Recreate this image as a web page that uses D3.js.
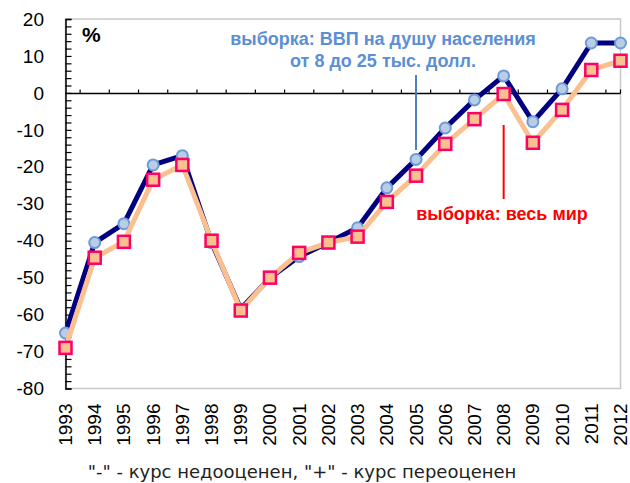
<!DOCTYPE html>
<html>
<head>
<meta charset="utf-8">
<script src="https://cdn.jsdelivr.net/npm/d3@7"></script>
<style>
  body { margin: 0; background: #fff; }
  svg { display: block; font-family: "Liberation Sans", Arial, sans-serif; }
</style>
</head>
<body>
<svg width="630" height="483"></svg>
<script>
// data
var years = ["1993","1994","1995","1996","1997","1998","1999","2000","2001","2002",
             "2003","2004","2005","2006","2007","2008","2009","2010","2011","2012"];
// sample: GDP per capita 8-25 thousand dollars
var midIncome = [-65, -40.5, -35.4, -19.5, -17, -40.5, -58.5, -50, -44.3, -40.5,
                 -36.5, -25.7, -18, -9.5, -1.9, 4.6, -7.8, 1.1, 13.5, 13.5];
// sample: whole world
var world = [-69, -44.6, -40.3, -23.5, -19.5, -40, -58.9, -50, -43.3, -40.5,
             -38.9, -29.5, -22.4, -13.8, -7.1, -0.3, -13.5, -4.6, 6.2, 8.7];
var yTicks = [20, 10, 0, -10, -20, -30, -40, -50, -60, -70, -80];

var svg = d3.select("svg");

var plotLeft = 65.5, plotRight = 620.5, plotTop = 19, plotBottom = 388.5;

var x = d3.scalePoint().domain(years).range([plotLeft, plotRight]);
var y = d3.scaleLinear().domain([-80, 20]).range([plotBottom, plotTop]);
var step = x.step();

// plot frame
svg.append("rect")
    .attr("x", plotLeft).attr("y", plotTop)
    .attr("width", plotRight - plotLeft).attr("height", plotBottom - plotTop)
    .attr("fill", "none").attr("stroke", "#c8c8c8").attr("stroke-width", 1.5);

// y axis with minor ticks every 2
var yAxis = svg.append("g").attr("transform", "translate(" + plotLeft + ",0)");
yAxis.call(d3.axisLeft(y).tickValues(d3.range(-80, 21, 2)).tickSize(-6).tickFormat(""));
yAxis.select(".domain").attr("stroke", "#000").attr("stroke-width", 1.5);
yAxis.selectAll(".tick line").attr("stroke", "#000").attr("stroke-width", 1.2);

svg.append("g").selectAll("text")
    .data(yTicks)
    .enter().append("text")
    .attr("x", 44)
    .attr("y", function(d) { return y(d); })
    .attr("dy", "0.35em")
    .attr("text-anchor", "end")
    .attr("font-size", 19)
    .attr("fill", "#000")
    .text(function(d) { return d; });

// x axis at zero, ticks between categories
var zeroY = Math.round(y(0)) + 0.5;
svg.append("line")
    .attr("x1", plotLeft).attr("x2", plotRight)
    .attr("y1", zeroY).attr("y2", zeroY)
    .attr("stroke", "#000").attr("stroke-width", 1.5);

var midTicks = years.slice(0, -1).map(function(d) { return x(d) + step / 2; });
midTicks.push(plotRight);
svg.append("g").selectAll("line")
    .data(midTicks)
    .enter().append("line")
    .attr("x1", function(d) { return d; }).attr("x2", function(d) { return d; })
    .attr("y1", zeroY).attr("y2", zeroY - 4)
    .attr("stroke", "#000").attr("stroke-width", 1.2);

// rotated year labels
svg.append("g").selectAll("text")
    .data(years)
    .enter().append("text")
    .attr("transform", function(d) { return "translate(" + (x(d) + 6.5) + "," + (plotBottom + 15) + ") rotate(-90)"; })
    .attr("text-anchor", "end")
    .attr("font-size", 19)
    .attr("fill", "#000")
    .text(function(d) { return d; });

var line = d3.line()
    .x(function(d, i) { return x(years[i]); })
    .y(function(d) { return y(d); });

// blue series
svg.append("path")
    .datum(midIncome)
    .attr("d", line)
    .attr("fill", "none")
    .attr("stroke", "#000080")
    .attr("stroke-width", 5)
    .attr("stroke-linejoin", "round");

svg.append("g").selectAll("circle")
    .data(midIncome)
    .enter().append("circle")
    .attr("cx", function(d, i) { return x(years[i]); })
    .attr("cy", function(d) { return y(d); })
    .attr("r", 5.5)
    .attr("fill", "#b9cde5")
    .attr("stroke", "#6d9ad8")
    .attr("stroke-width", 2);

// world series
svg.append("path")
    .datum(world)
    .attr("d", line)
    .attr("fill", "none")
    .attr("stroke", "#fac090")
    .attr("stroke-width", 5)
    .attr("stroke-linejoin", "round");

svg.append("g").selectAll("rect")
    .data(world)
    .enter().append("rect")
    .attr("x", function(d, i) { return x(years[i]) - 6; })
    .attr("y", function(d) { return y(d) - 6; })
    .attr("width", 12).attr("height", 12)
    .attr("fill", "#fac090")
    .attr("stroke", "#ff0066")
    .attr("stroke-width", 2.5);

// annotations
svg.append("text")
    .attr("x", 82).attr("y", 42)
    .attr("font-size", 21).attr("font-weight", "bold")
    .text("%");

var blueNote = svg.append("text")
    .attr("text-anchor", "middle")
    .attr("font-size", 18).attr("font-weight", "bold")
    .attr("fill", "#5b8fd5");
blueNote.append("tspan").attr("x", 383).attr("y", 45).text("выборка: ВВП на душу населения");
blueNote.append("tspan").attr("x", 383).attr("y", 67).text("от 8 до 25 тыс. долл.");

svg.append("line")
    .attr("x1", x("2005")).attr("x2", x("2005"))
    .attr("y1", 75).attr("y2", 150)
    .attr("stroke", "#4f81bd").attr("stroke-width", 2);

svg.append("line")
    .attr("x1", x("2008")).attr("x2", x("2008"))
    .attr("y1", 125).attr("y2", 199)
    .attr("stroke", "#ff0000").attr("stroke-width", 2);

svg.append("text")
    .attr("x", 502).attr("y", 220)
    .attr("text-anchor", "middle")
    .attr("font-size", 18).attr("font-weight", "bold")
    .attr("fill", "#ff0000")
    .text("выборка: весь мир");

svg.append("text")
    .attr("x", 302).attr("y", 478)
    .attr("text-anchor", "middle")
    .attr("font-family", "'DejaVu Sans', sans-serif")
    .attr("font-size", 18)
    .attr("fill", "#222")
    .text("\"-\" - курс недооценен, \"+\" - курс переоценен");
</script>
</body>
</html>
